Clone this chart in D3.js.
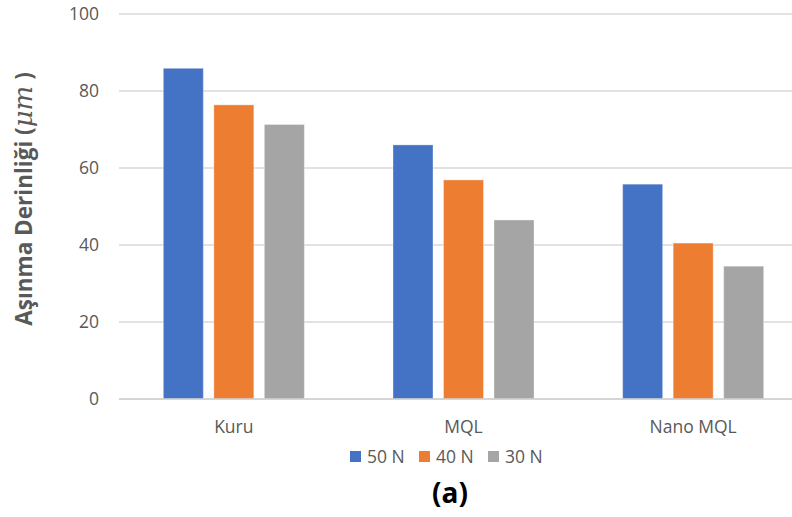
<!DOCTYPE html>
<html>
<head>
<meta charset="utf-8">
<script src="https://cdn.jsdelivr.net/npm/d3@7/dist/d3.min.js"></script>
<style>
  html, body { margin: 0; padding: 0; background: #fff; }
  svg { display: block; }
  text { font-family: "Open Sans", "Noto Sans", sans-serif; }
</style>
</head>
<body>
<svg id="chart" width="792" height="517"></svg>
<script>
// Wear depth by lubrication condition and load
const categories = ["Kuru", "MQL", "Nano MQL"];
const seriesNames = ["50 N", "40 N", "30 N"];
const load50 = [85.9, 66.0, 55.8];
const load40 = [76.4, 56.9, 40.5];
const load30 = [71.3, 46.5, 34.5];
const yTicks = [0, 20, 40, 60, 80, 100];
const colors = ["#4472C4", "#ED7D31", "#A5A5A5"];

const seriesValues = [load50, load40, load30];

const svg = d3.select("#chart");
const W = 792, H = 517;
const margin = { left: 119, top: 14, bottom: 118 };
const plotRight = 808;
const plotBottom = 399;

const y = d3.scaleLinear().domain([0, 100]).range([plotBottom, margin.top]);

const x0 = d3.scaleBand()
  .domain(categories)
  .range([margin.left, plotRight])
  .paddingInner(0.386)
  .paddingOuter(0.193);

const x1 = d3.scaleBand()
  .domain(seriesNames)
  .range([0, x0.bandwidth()])
  .paddingInner(0.208)
  .paddingOuter(0);

const color = d3.scaleOrdinal().domain(seriesNames).range(colors);

// Horizontal gridlines
svg.append("g")
  .selectAll("line")
  .data(yTicks)
  .join("line")
  .attr("x1", margin.left)
  .attr("x2", W)
  .attr("y1", d => y(d))
  .attr("y2", d => y(d))
  .attr("stroke", "#d9d9d9")
  .attr("stroke-width", 1.5);

// Y tick labels
svg.append("g")
  .selectAll("text")
  .data(yTicks)
  .join("text")
  .attr("x", 99)
  .attr("y", d => y(d))
  .attr("dy", "0.35em")
  .attr("text-anchor", "end")
  .attr("font-size", 17.5)
  .attr("fill", "#595959")
  .text(d => d);

// Bars
const groups = svg.append("g")
  .selectAll("g")
  .data(categories)
  .join("g")
  .attr("transform", d => `translate(${x0(d)},0)`);

groups.selectAll("rect")
  .data((d, i) => seriesNames.map((s, j) => ({ s, v: seriesValues[j][i] })))
  .join("rect")
  .attr("x", d => x1(d.s))
  .attr("width", x1.bandwidth())
  .attr("y", d => y(d.v))
  .attr("height", d => y(0) - y(d.v))
  .attr("fill", d => color(d.s))
  .attr("stroke", "rgba(255,255,255,0.35)")
  .attr("stroke-width", 1);

// Baseline
svg.append("line")
  .attr("x1", margin.left).attr("x2", W)
  .attr("y1", y(0)).attr("y2", y(0))
  .attr("stroke", "#d0d0d0").attr("stroke-width", 1.5);

// Category labels
svg.append("g")
  .selectAll("text")
  .data(categories)
  .join("text")
  .attr("x", d => x0(d) + x0.bandwidth() / 2)
  .attr("y", 433)
  .attr("text-anchor", "middle")
  .attr("font-size", 17.5)
  .attr("fill", "#595959")
  .text(d => d);

// Legend
const legendItems = [
  { s: seriesNames[0], x: 350 },
  { s: seriesNames[1], x: 419 },
  { s: seriesNames[2], x: 488 }
];
const lg = svg.append("g")
  .selectAll("g")
  .data(legendItems)
  .join("g")
  .attr("transform", d => `translate(${d.x},0)`);
lg.append("rect")
  .attr("x", 0).attr("y", 451)
  .attr("width", 11).attr("height", 11)
  .attr("fill", d => color(d.s));
lg.append("text")
  .attr("x", 17).attr("y", 463)
  .attr("font-size", 17.5)
  .attr("fill", "#595959")
  .text(d => d.s);

// Y axis title
const yTitle = svg.append("text")
  .attr("transform", "translate(32,199) rotate(-90)")
  .attr("text-anchor", "middle")
  .attr("font-size", 22.5)
  .attr("font-weight", "bold")
  .attr("fill", "#595959");
yTitle.append("tspan").text("Aşınma Derinliği (");
yTitle.append("tspan")
  .attr("font-family", "'DejaVu Serif', 'Liberation Serif', serif")
  .attr("font-style", "italic")
  .attr("font-weight", "normal")
  .attr("font-size", 26)
  .text("μm");
yTitle.append("tspan").text(" )");

// Panel label
svg.append("text")
  .attr("x", 450)
  .attr("y", 503)
  .attr("text-anchor", "middle")
  .attr("font-size", 28)
  .attr("font-weight", "bold")
  .attr("fill", "#000")
  .text("(a)");
</script>
</body>
</html>
